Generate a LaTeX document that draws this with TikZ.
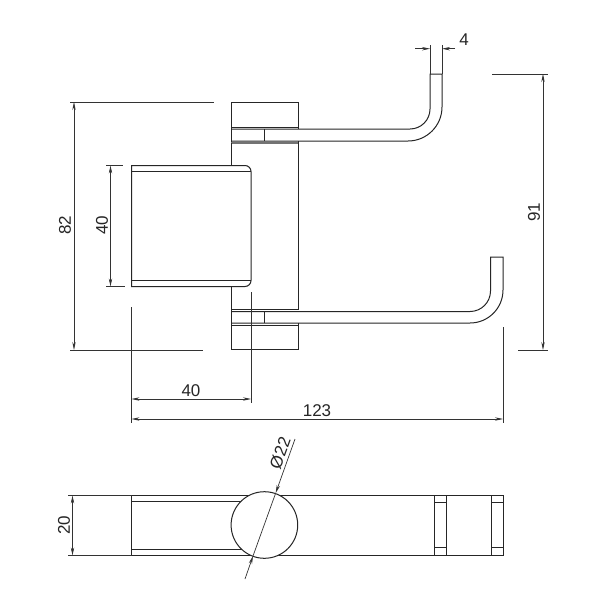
\documentclass[tikz,border=0pt]{standalone}
\usepackage{fontspec}
\setmainfont{Liberation Sans}
\usetikzlibrary{arrows.meta}
\tikzset{
  part/.style={draw=black!85,line width=0.5pt},
  dimline/.style={draw=black!80,line width=0.35pt},
  dimarrows/.style={dimline,{Stealth[length=4pt,width=1.7pt]}-{Stealth[length=4pt,width=1.7pt]}},
  tipend/.style={dimline,-{Stealth[length=4pt,width=1.7pt]}},
  dimtext/.style={font=\fontsize{8.5}{9}\selectfont,text=black!85,inner sep=0pt},
  greyline/.style={draw=black!55,line width=0.6pt}
}
\begin{document}
\begin{tikzpicture}[x=0.5pt,y=-0.5pt]
\useasboundingbox (0,0) rectangle (600,600);
\fill[white] (0,0) rectangle (600,600);
% upper block and arm
\draw[part] (231,143) -- (231,102) -- (298,102) -- (298,127);
\draw[part] (231,127) -- (298,127);
\draw[part] (231,129) -- (410,129) arc[start angle=90,end angle=0,radius=20] -- (430,74) -- (442,74) -- (442,107) arc[start angle=0,end angle=90,radius=34] -- (231,141);
\draw[part] (231,127) -- (231,143);
\draw[part] (298,127) -- (298,129);
\draw[part] (264.5,129) -- (264.5,141);
\draw[greyline] (231,143) -- (298,143);
\draw[part] (298,141) -- (298,310);
\draw[part] (231,143) -- (231,166);
% handle
\draw[part] (131.5,165.5) -- (245,165.5) arc[start angle=-90,end angle=0,radius=6] -- (251,280.5) arc[start angle=0,end angle=90,radius=6] -- (131.5,286.5) -- cycle;
\draw[part] (131.5,171.5) -- (251,171.5);
\draw[part] (131.5,280) -- (251,280);
% lower block and arm
\draw[part] (231,286.5) -- (231,349.5) -- (298,349.5) -- (298,323);
\draw[part] (231,309.5) -- (298,309.5);
\draw[part] (231,311.5) -- (470,311.5) arc[start angle=90,end angle=0,radius=20.5] -- (490.5,257) -- (503,257) -- (503,290) arc[start angle=0,end angle=90,radius=33] -- (231,323);
\draw[part] (231,325) -- (298,325);
\draw[part] (298,323) -- (298,325);
\draw[part] (264.5,311.5) -- (264.5,323);
% dim 4
\draw[dimline] (430,74) -- (430,45);
\draw[dimline] (442,74) -- (442,45);
\coordinate (d4a) at (415,48.7);
\coordinate (d4b) at (430,48.7);
\coordinate (d4c) at (455,48.7);
\coordinate (d4d) at (442,48.7);
\draw[tipend] (d4a) -- (d4b);
\draw[tipend] (d4c) -- (d4d);
\node[dimtext] (t4) at (464,40) {4};
% dim 82
\draw[dimline] (70,102) -- (214,102);
\draw[dimline] (70,350) -- (203,350);
\draw[dimarrows] (74,102) -- (74,350);
\node[dimtext,rotate=90] (t82) at (65,225) {82};
% dim 40 vertical
\draw[dimline] (106,165.5) -- (123,165.5);
\draw[dimline] (106,286.5) -- (125,286.5);
\draw[dimarrows] (110.5,165.5) -- (110.5,286.5);
\node[dimtext,rotate=90] (t40v) at (102,225) {40};
% dim 91
\draw[dimline] (492,74) -- (548,74);
\draw[dimline] (518,350) -- (548,350);
\draw[dimarrows] (543,74) -- (543,350);
\node[dimtext,rotate=90] (t91) at (534,212) {91};
% dim 40 horizontal and 123
\draw[dimline] (131.5,307) -- (131.5,423);
\draw[dimline] (251,292) -- (251,403);
\draw[dimline] (503,327) -- (503,423);
\draw[dimarrows] (131.5,399) -- (251,399);
\node[dimtext] (t40h) at (191,391) {40};
\draw[dimarrows] (131.5,419) -- (503,419);
\node[dimtext] (t123) at (317,411) {123};
% lower view
\draw[part] (131.5,495.5) rectangle (503,555.5);
\draw[part] (131.5,501) -- (243,501);
\draw[part] (131.5,549.5) -- (243,549.5);
\draw[part,fill=white] (264.4,525) circle[radius=33.3];
\draw[part] (434,495.5) rectangle (446,555.5);
\draw[part] (491,495.5) rectangle (503,555.5);
\draw[part] (434,502.7) -- (446,502.7);
\draw[part] (434,547.7) -- (446,547.7);
\draw[part] (491,502.7) -- (503,502.7);
\draw[part] (491,547.7) -- (503,547.7);
% dim 20
\draw[dimline] (68,495.5) -- (131.5,495.5);
\draw[dimline] (68,555.5) -- (131.5,555.5);
\draw[dimarrows] (72.5,495.5) -- (72.5,555.5);
\node[dimtext,rotate=90] (t20) at (64,525) {20};
% dim diameter
\coordinate (da) at (295,439);
\coordinate (db) at (275.7,493);
\coordinate (dc) at (253,556);
\coordinate (dd) at (245,579);
\draw[dimline] (db) -- (dc);
\draw[tipend] (da) -- (db);
\draw[tipend] (dd) -- (dc);
\node[dimtext,rotate=70] (tdia) at (280,453) {Ø22};
\end{tikzpicture}
\end{document}
